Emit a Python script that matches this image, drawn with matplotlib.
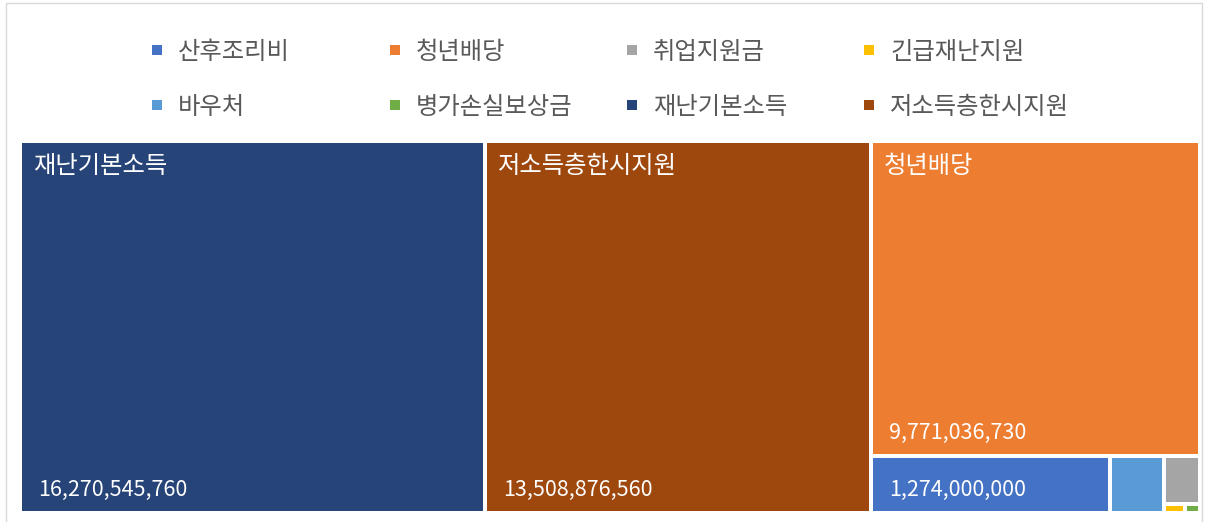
import matplotlib
matplotlib.use("Agg")
import matplotlib.pyplot as plt
from matplotlib.patches import Rectangle

plt.rcParams['font.family'] = ['Noto Sans CJK KR', 'DejaVu Sans']

# Programme names (series order) and amounts in won
categories = ['산후조리비', '청년배당', '취업지원금', '긴급재난지원',
              '바우처', '병가손실보상금', '재난기본소득', '저소득층한시지원']
amounts = [1274000000, 9771036730, 163200000, 17600000,
           287000000, 12400000, 16270545760, 13508876560]
colors = ['#4472C4', '#ED7D31', '#A5A5A5', '#FFC000',
          '#5B9BD5', '#70AD47', '#264478', '#9E480E']

FIG_W, FIG_H = 1212, 522
# treemap area in pixel units (left, top, right, bottom)
AREA = (20, 141, 1200, 513)
GAP = 2.0


def worst(row, side):
    s = sum(row)
    return max(max(side * side * r / (s * s), s * s / (side * side * r)) for r in row)


def squarify(items, x, y, w, h):
    """Squarified treemap layout; items are (key, area) sorted descending."""
    rects = []
    items = list(items)
    while items:
        side = min(w, h)
        row = [items[0]]
        i = 1
        while i < len(items):
            cand = row + [items[i]]
            if worst([a for _, a in cand], side) <= worst([a for _, a in row], side):
                row = cand
                i += 1
            else:
                break
        s = sum(a for _, a in row)
        if w >= h:
            cw = s / h
            yy = y
            for k, a in row:
                rh = a / cw
                rects.append((k, x, yy, cw, rh))
                yy += rh
            x += cw
            w -= cw
        else:
            rh = s / w
            xx = x
            for k, a in row:
                rw = a / rh
                rects.append((k, xx, y, rw, rh))
                xx += rw
            y += rh
            h -= rh
        items = items[i:]
    return rects


fig = plt.figure(figsize=(FIG_W / 100, FIG_H / 100), dpi=100)
fig.patch.set_facecolor('white')


def fx(px):
    return px / FIG_W


def fy(py):
    return 1 - py / FIG_H


# thin outer frame of the chart
fig.add_artist(Rectangle((fx(6), fy(540)), fx(1202) - fx(6), fy(3) - fy(540),
                         transform=fig.transFigure, fill=False,
                         edgecolor='#D9D9D9', linewidth=1.0))

W = AREA[2] - AREA[0]
H = AREA[3] - AREA[1]
ax = fig.add_axes([fx(AREA[0]), fy(AREA[3]), W / FIG_W, H / FIG_H])
ax.set_xlim(0, W)
ax.set_ylim(H, 0)
ax.axis('off')

total = sum(amounts)
order = sorted(range(len(amounts)), key=lambda i: -amounts[i])
items = [(i, amounts[i] / total * W * H) for i in order]
layout = squarify(items, 0, 0, W, H)

for idx, x, y, w, h in layout:
    ax.add_patch(Rectangle((x + GAP, y + GAP), w - 2 * GAP, h - 2 * GAP,
                           facecolor=colors[idx], edgecolor='none'))
    if w > 150 and h > 150:
        ax.text(x + 13, y + 25, categories[idx], color='white', fontsize=17.5,
                ha='left', va='center')
    if w > 150 and h > 40:
        ax.text(x + 18, y + h - 23, f'{amounts[idx]:,}', color='white',
                fontsize=15.5, ha='left', va='center')

# legend: two rows of four entries
leg_cols = [157, 395, 632, 869]
leg_rows = [50, 105]
for k, name in enumerate(categories):
    cx = leg_cols[k % 4]
    cy = leg_rows[k // 4]
    fig.add_artist(Rectangle((fx(cx - 5), fy(cy + 5)), 10 / FIG_W, 10 / FIG_H,
                             transform=fig.transFigure, facecolor=colors[k],
                             edgecolor='none'))
    fig.text(fx(cx + 21), fy(cy + 2), name, color='#595959', fontsize=17.5,
             ha='left', va='center')

fig.savefig('out.png', dpi=100, facecolor='white')
